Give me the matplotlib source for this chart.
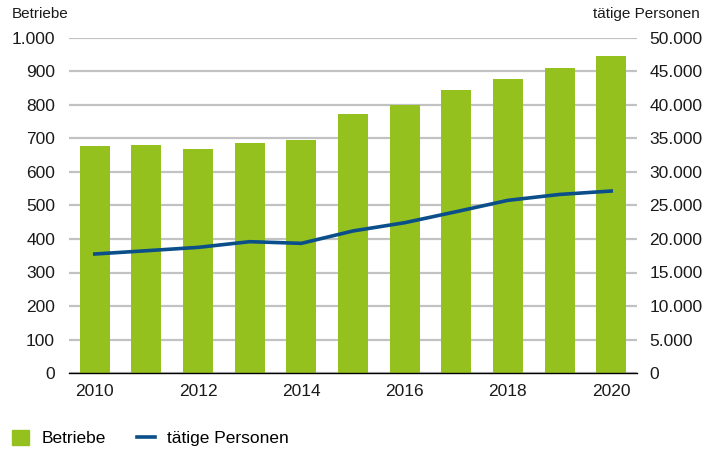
import numpy as np
import matplotlib.pyplot as plt
from matplotlib.ticker import FuncFormatter
from matplotlib.patches import Patch
from matplotlib.lines import Line2D

plt.rcParams['font.family'] = ['Liberation Sans Narrow', 'Liberation Sans', 'DejaVu Sans']

# Daten
jahre = [2010, 2011, 2012, 2013, 2014, 2015, 2016, 2017, 2018, 2019, 2020]
betriebe = [678, 681, 669, 687, 695, 773, 800, 845, 877, 910, 946]
personen = [17760, 18250, 18750, 19600, 19350, 21200, 22430, 24080, 25770, 26650, 27160]
xlabels = ["2010", "", "2012", "", "2014", "", "2016", "", "2018", "", "2020"]

gruen = "#95c11f"
blau = "#0b4f8a"
grau = "#c2c2c2"

def de_fmt(v, pos):
    return f"{int(v):,}".replace(",", ".")

fig = plt.figure(figsize=(7.05, 4.55), dpi=100)
ax = fig.add_axes([69/705, 1-373/455, (637-69)/705, (373-38)/455])
ax2 = ax.twinx()

x = np.arange(len(jahre))
ax.bar(x, betriebe, width=0.58, color=gruen, zorder=2)
ax2.plot(x, personen, color=blau, lw=2.6, zorder=3)

ax.set_xlim(-0.5, len(jahre) - 0.5)
ax.set_ylim(0, 1000)
ax2.set_ylim(0, 50000)
ax.set_yticks(np.arange(0, 1001, 100))
ax2.set_yticks(np.arange(0, 50001, 5000))
ax.yaxis.set_major_formatter(FuncFormatter(de_fmt))
ax2.yaxis.set_major_formatter(FuncFormatter(de_fmt))
ax.set_xticks(x)
ax.set_xticklabels(xlabels)

ax.yaxis.grid(True, color=grau, lw=1.6, zorder=0)
ax.set_axisbelow(True)
for a in (ax, ax2):
    for s in ("top", "left", "right", "bottom"):
        a.spines[s].set_visible(False)
ax.spines["bottom"].set_visible(True)
ax.spines["bottom"].set_color("black")
ax.spines["bottom"].set_linewidth(1.0)
ax.spines["bottom"].set_zorder(5)

ax.tick_params(axis="both", length=0, labelsize=12.5, colors="#1a1a1a")
ax.tick_params(axis="y", pad=10)
ax.tick_params(axis="x", pad=8)
ax2.tick_params(axis="y", length=0, labelsize=12.5, colors="#1a1a1a", pad=9)

fig.text(12/705, 1-14/455, "Betriebe", fontsize=11, va="center", ha="left", color="#1a1a1a")
fig.text(700/705, 1-14/455, "tätige Personen", fontsize=11, va="center", ha="right", color="#1a1a1a")

handles = [Patch(color=gruen, label="Betriebe"),
           Line2D([0], [0], color=blau, lw=2.6, label="tätige Personen")]
fig.legend(handles=handles, loc="center left", bbox_to_anchor=(12/705, 1-438/455), ncol=2,
           frameon=False, fontsize=12.5, handlelength=1.0, handleheight=1.0,
           columnspacing=1.8, handletextpad=0.7, borderaxespad=0, borderpad=0)

fig.savefig("out.png", dpi=100)
